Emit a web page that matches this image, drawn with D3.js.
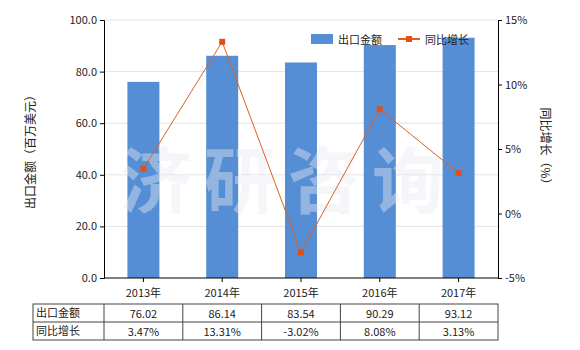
<!DOCTYPE html>
<html lang="zh">
<head>
<meta charset="UTF-8">
<title>出口金额</title>
<script src="https://d3js.org/d3.v7.min.js"></script>
<style>
    body { margin: 0; background: #fff; }
    text { font-family: "Noto Sans CJK SC", "Liberation Sans", sans-serif; fill: #222; }
</style>
</head>
<body>
<div id="chart"></div>
<script>
    // data
    var years = ["2013年", "2014年", "2015年", "2016年", "2017年"];
    var amount = [76.02, 86.14, 83.54, 90.29, 93.12];
    var growth = [3.47, 13.31, -3.02, 8.08, 3.13];
    var leftTicks = [0, 20, 40, 60, 80, 100];
    var rightTicks = [-5, 0, 5, 10, 15];

    var W = 580, H = 350;
    // plot area (note: "top" is a reserved window property, so use pTop etc.)
    var pLeft = 104, pRight = 498, pTop = 20, pBottom = 278;

    var svg = d3.select("#chart").append("svg")
        .attr("width", W).attr("height", H);

    var x = d3.scaleBand().domain(years).range([pLeft, pRight]);
    var y = d3.scaleLinear().domain([0, 100]).range([pBottom, pTop]);
    var y2 = d3.scaleLinear().domain([-5, 15]).range([pBottom, pTop]);

    // gridlines
    svg.append("g").selectAll("line").data(leftTicks.slice(1)).enter().append("line")
        .attr("x1", pLeft).attr("x2", pRight)
        .attr("y1", function (d) { return y(d); }).attr("y2", function (d) { return y(d); })
        .attr("stroke", "#e3e3e3");

    // bars
    var bw = 32;
    svg.append("g").selectAll("rect").data(amount).enter().append("rect")
        .attr("x", function (d, i) { return x(years[i]) + x.bandwidth() / 2 - bw / 2; })
        .attr("y", function (d) { return y(d); })
        .attr("width", bw)
        .attr("height", function (d) { return pBottom - y(d); })
        .attr("fill", "#558ed5");

    // watermark
    svg.append("text")
        .attr("x", 120).attr("y", 207)
        .style("font-size", "72px").style("font-weight", "bold")
        .style("fill", "#e9ecf1").style("opacity", 0.42)
        .style("letter-spacing", "12px")
        .text("济研咨询");

    // axes
    var axL = svg.append("g").attr("transform", "translate(" + pLeft + ",0)")
        .call(d3.axisLeft(y).tickValues(leftTicks).tickSize(4).tickFormat(d3.format(".1f")));
    var axR = svg.append("g").attr("transform", "translate(" + pRight + ",0)")
        .call(d3.axisRight(y2).tickValues(rightTicks).tickSize(4).tickFormat(function (d) { return d + "%"; }));
    var axB = svg.append("g").attr("transform", "translate(0," + pBottom + ")")
        .call(d3.axisBottom(x).tickSize(4));
    [axL, axR, axB].forEach(function (a) {
        a.select(".domain").attr("stroke", "#000");
        a.selectAll(".tick line").attr("stroke", "#000");
        a.selectAll("text").style("font-size", "11px")
            .style("font-family", "'Noto Sans CJK SC', sans-serif").attr("fill", "#222");
    });
    axB.select(".domain").attr("d", "M" + pLeft + ",0H" + pRight);
    axB.selectAll(".tick text").attr("dy", "1.1em");

    // growth line
    var cx = function (d, i) { return x(years[i]) + x.bandwidth() / 2; };
    svg.append("path").datum(growth)
        .attr("fill", "none").attr("stroke", "#e0601e").attr("stroke-width", 1)
        .attr("d", d3.line().x(cx).y(function (d) { return y2(d); }));
    svg.append("g").selectAll("rect").data(growth).enter().append("rect")
        .attr("x", function (d, i) { return cx(d, i) - 3; })
        .attr("y", function (d) { return y2(d) - 3; })
        .attr("width", 6).attr("height", 6)
        .attr("fill", "#e0501a");

    // axis titles
    svg.append("text")
        .attr("transform", "translate(35," + ((pTop + pBottom) / 2) + ") rotate(-90)")
        .attr("text-anchor", "middle").style("font-size", "12px")
        .text("出口金额（百万美元）");
    svg.append("text")
        .attr("transform", "translate(541," + ((pTop + pBottom) / 2) + ") rotate(90)")
        .attr("text-anchor", "middle").style("font-size", "12px")
        .text("同比增长（%）");

    // legend
    var lg = svg.append("g");
    lg.append("rect").attr("x", 311).attr("y", 34).attr("width", 22).attr("height", 10).attr("fill", "#558ed5");
    lg.append("text").attr("x", 338).attr("y", 44).style("font-size", "11px").text("出口金额");
    lg.append("line").attr("x1", 398).attr("x2", 420).attr("y1", 39).attr("y2", 39)
        .attr("stroke", "#e0601e").attr("stroke-width", 2);
    lg.append("rect").attr("x", 406).attr("y", 36).attr("width", 6).attr("height", 6).attr("fill", "#e0501a");
    lg.append("text").attr("x", 425).attr("y", 44).style("font-size", "11px").text("同比增长");

    // data table
    var tLeft = 33, tTop = 304, rowH = 18;
    var rows = [
        { name: "出口金额", vals: amount.map(function (v) { return v.toFixed(2); }) },
        { name: "同比增长", vals: growth.map(function (v) { return v.toFixed(2) + "%"; }) }
    ];
    var tb = svg.append("g");
    tb.append("rect").attr("x", tLeft).attr("y", tTop)
        .attr("width", pRight - tLeft).attr("height", rowH * 2)
        .attr("fill", "none").attr("stroke", "#444");
    tb.append("line").attr("x1", tLeft).attr("x2", pRight)
        .attr("y1", tTop + rowH).attr("y2", tTop + rowH).attr("stroke", "#444");
    tb.selectAll(".col").data(years).enter().append("line")
        .attr("x1", function (d) { return x(d); }).attr("x2", function (d) { return x(d); })
        .attr("y1", tTop).attr("y2", tTop + rowH * 2).attr("stroke", "#444");
    rows.forEach(function (r, ri) {
        var ty = tTop + rowH * ri + 13;
        tb.append("text").attr("x", tLeft + 3).attr("y", ty).style("font-size", "11px").text(r.name);
        tb.selectAll(".v" + ri).data(r.vals).enter().append("text")
            .attr("x", function (d, i) { return x(years[i]) + x.bandwidth() / 2; })
            .attr("y", ty + 1)
            .attr("text-anchor", "middle").style("font-size", "11px")
            .text(function (d) { return d; });
    });
</script>
</body>
</html>
